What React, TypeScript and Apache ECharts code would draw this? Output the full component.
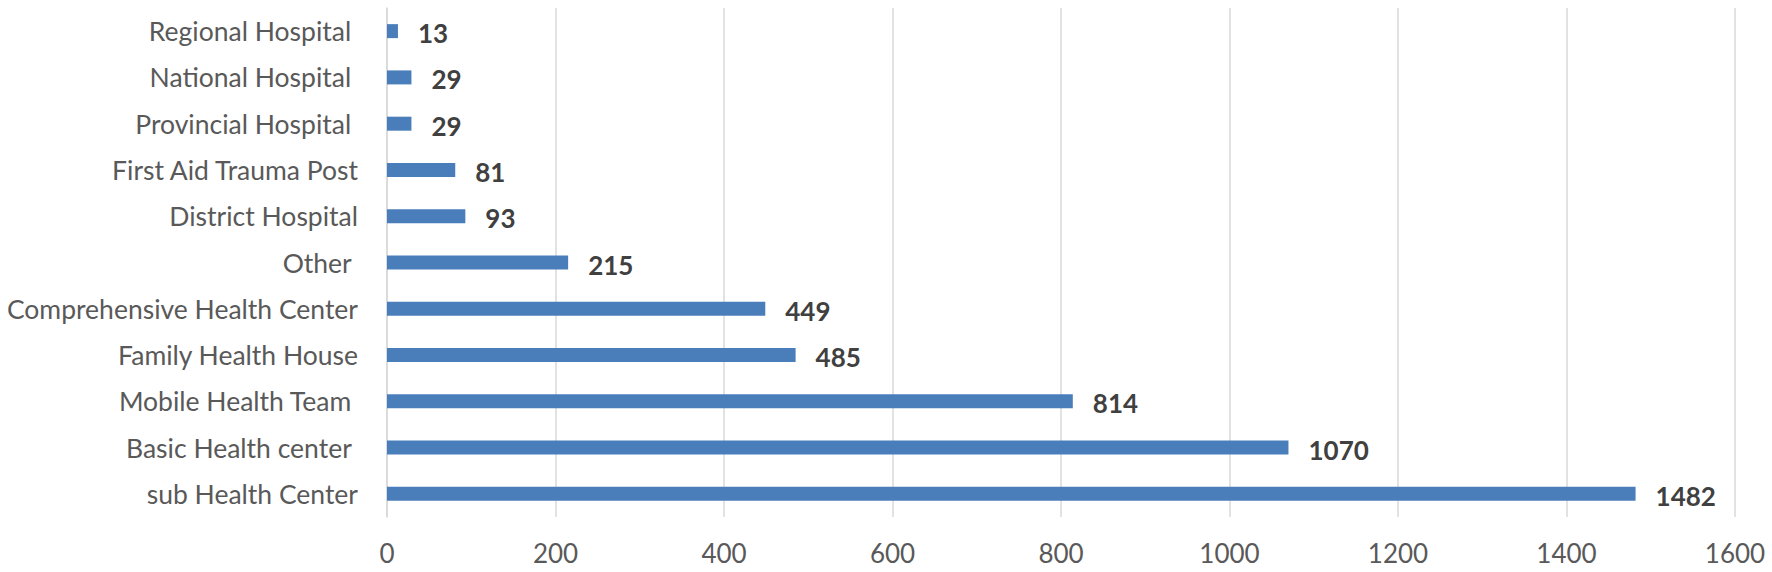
import React, { useEffect, useRef } from "react";
import * as echarts from "echarts";

const categories = [
  "Regional Hospital ",
  "National Hospital ",
  "Provincial Hospital ",
  "First Aid Trauma Post",
  "District Hospital",
  "Other ",
  "Comprehensive Health Center",
  "Family Health House",
  "Mobile Health Team ",
  "Basic Health center ",
  "sub Health Center",
];
const values = [13, 29, 29, 81, 93, 215, 449, 485, 814, 1070, 1482];
const xTicks = { min: 0, max: 1600, interval: 200 };

const FONT = "Lato, 'Open Sans', sans-serif";

export default function App() {
  const ref = useRef<HTMLDivElement>(null);
  useEffect(() => {
    document.body.style.margin = "0";
    if (!ref.current) return;
    const chart = echarts.init(ref.current, undefined, { renderer: "svg" });
    chart.setOption({
      animation: false,
      backgroundColor: "#ffffff",
      textStyle: { fontFamily: FONT },
      grid: { left: 387, right: 37, top: 8, bottom: 55, containLabel: false },
      xAxis: {
        type: "value",
        min: xTicks.min,
        max: xTicks.max,
        interval: xTicks.interval,
        axisLine: { show: false },
        axisTick: { show: false },
        splitLine: { show: true, lineStyle: { color: "#d9d9d9", width: 1.5 } },
        axisLabel: {
          color: "#595959",
          fontSize: 26,
          fontFamily: FONT,
          margin: 23,
          formatter: (v: number) => String(v),
        },
      },
      yAxis: {
        type: "category",
        inverse: true,
        data: categories,
        axisLine: { show: true, lineStyle: { color: "#d9d9d9", width: 1.5 } },
        axisTick: { show: false },
        axisLabel: { color: "#595959", fontSize: 26.5, fontFamily: FONT, margin: 29 },
      },
      series: [
        {
          type: "bar",
          data: values,
          barWidth: 14,
          itemStyle: { color: "#4a7ebb" },
          label: {
            show: true,
            position: "right",
            distance: 20,
            offset: [0, 2],
            color: "#404040",
            fontWeight: "bold",
            fontSize: 26,
            fontFamily: FONT,
          },
        },
      ],
    });
    return () => chart.dispose();
  }, []);
  return <div ref={ref} style={{ width: 1772, height: 572 }} />;
}
